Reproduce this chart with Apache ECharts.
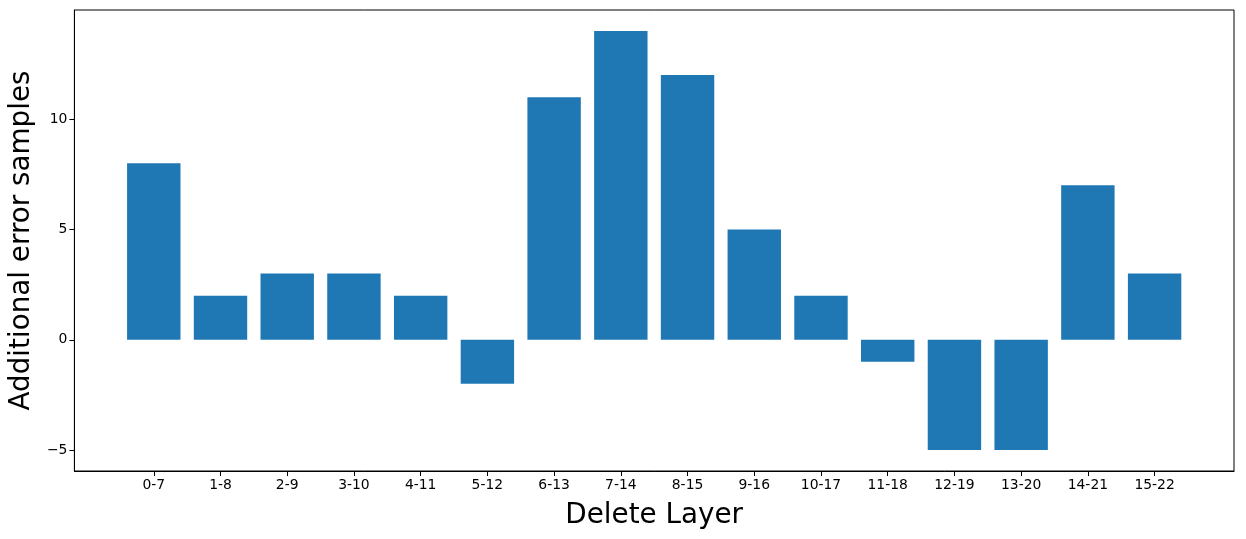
<!DOCTYPE html>
<html>
<head>
<meta charset="utf-8">
<script src="https://cdn.jsdelivr.net/npm/echarts@6/dist/echarts.min.js"></script>
<style>html,body{margin:0;padding:0;background:#fff;}#c{width:1246px;height:539px;}</style>
</head>
<body>
<div id="c"></div>
<script>
const categories = ['0-7','1-8','2-9','3-10','4-11','5-12','6-13','7-14','8-15','9-16','10-17','11-18','12-19','13-20','14-21','15-22'];
const values = [8, 2, 3, 3, 2, -2, 11, 14, 12, 5, 2, -1, -5, -5, 7, 3];
const yTicks = [-5, 0, 5, 10];

const xPos = categories.map((c, i) => i);
const font = 'DejaVu Sans';
const chart = echarts.init(document.getElementById('c'), null, {renderer: 'canvas'});
chart.setOption({
  animation: false,
  backgroundColor: '#fff',
  grid: {left: 74, top: 10, width: 1160, height: 461, show: true, borderColor: '#000', borderWidth: 1, backgroundColor: 'transparent'},
  xAxis: {
    type: 'value', min: -1.19, max: 16.19,
    name: 'Delete Layer', nameLocation: 'middle', nameGap: 31,
    nameTextStyle: {fontFamily: font, fontSize: 27.8, color: '#000'},
    axisLine: {show: true, onZero: false, lineStyle: {color: '#000', width: 1}},
    axisTick: {show: true, customValues: xPos, length: 5, lineStyle: {color: '#000'}},
    axisLabel: {show: true, customValues: xPos, margin: 7, fontFamily: font, fontSize: 13.9, color: '#000',
      formatter: v => categories[Math.round(v)]},
    splitLine: {show: false}
  },
  yAxis: {
    type: 'value', min: -5.95, max: 14.95,
    name: 'Additional error samples', nameLocation: 'middle', nameGap: 37,
    nameTextStyle: {fontFamily: font, fontSize: 27.8, color: '#000'},
    axisLine: {show: true, onZero: false, lineStyle: {color: '#000', width: 1}},
    axisTick: {show: true, customValues: yTicks, length: 5, lineStyle: {color: '#000'}},
    axisLabel: {show: true, customValues: yTicks, margin: 7, fontFamily: font, fontSize: 13.9, color: '#000',
      formatter: v => String(v).replace('-', '\u2212')},
    splitLine: {show: false}
  },
  series: [{
    type: 'bar',
    data: values.map((v, i) => [xPos[i], v]),
    barWidth: 53.4,
    itemStyle: {color: '#1f77b4', borderWidth: 0}
  }]
});
</script>
</body>
</html>
